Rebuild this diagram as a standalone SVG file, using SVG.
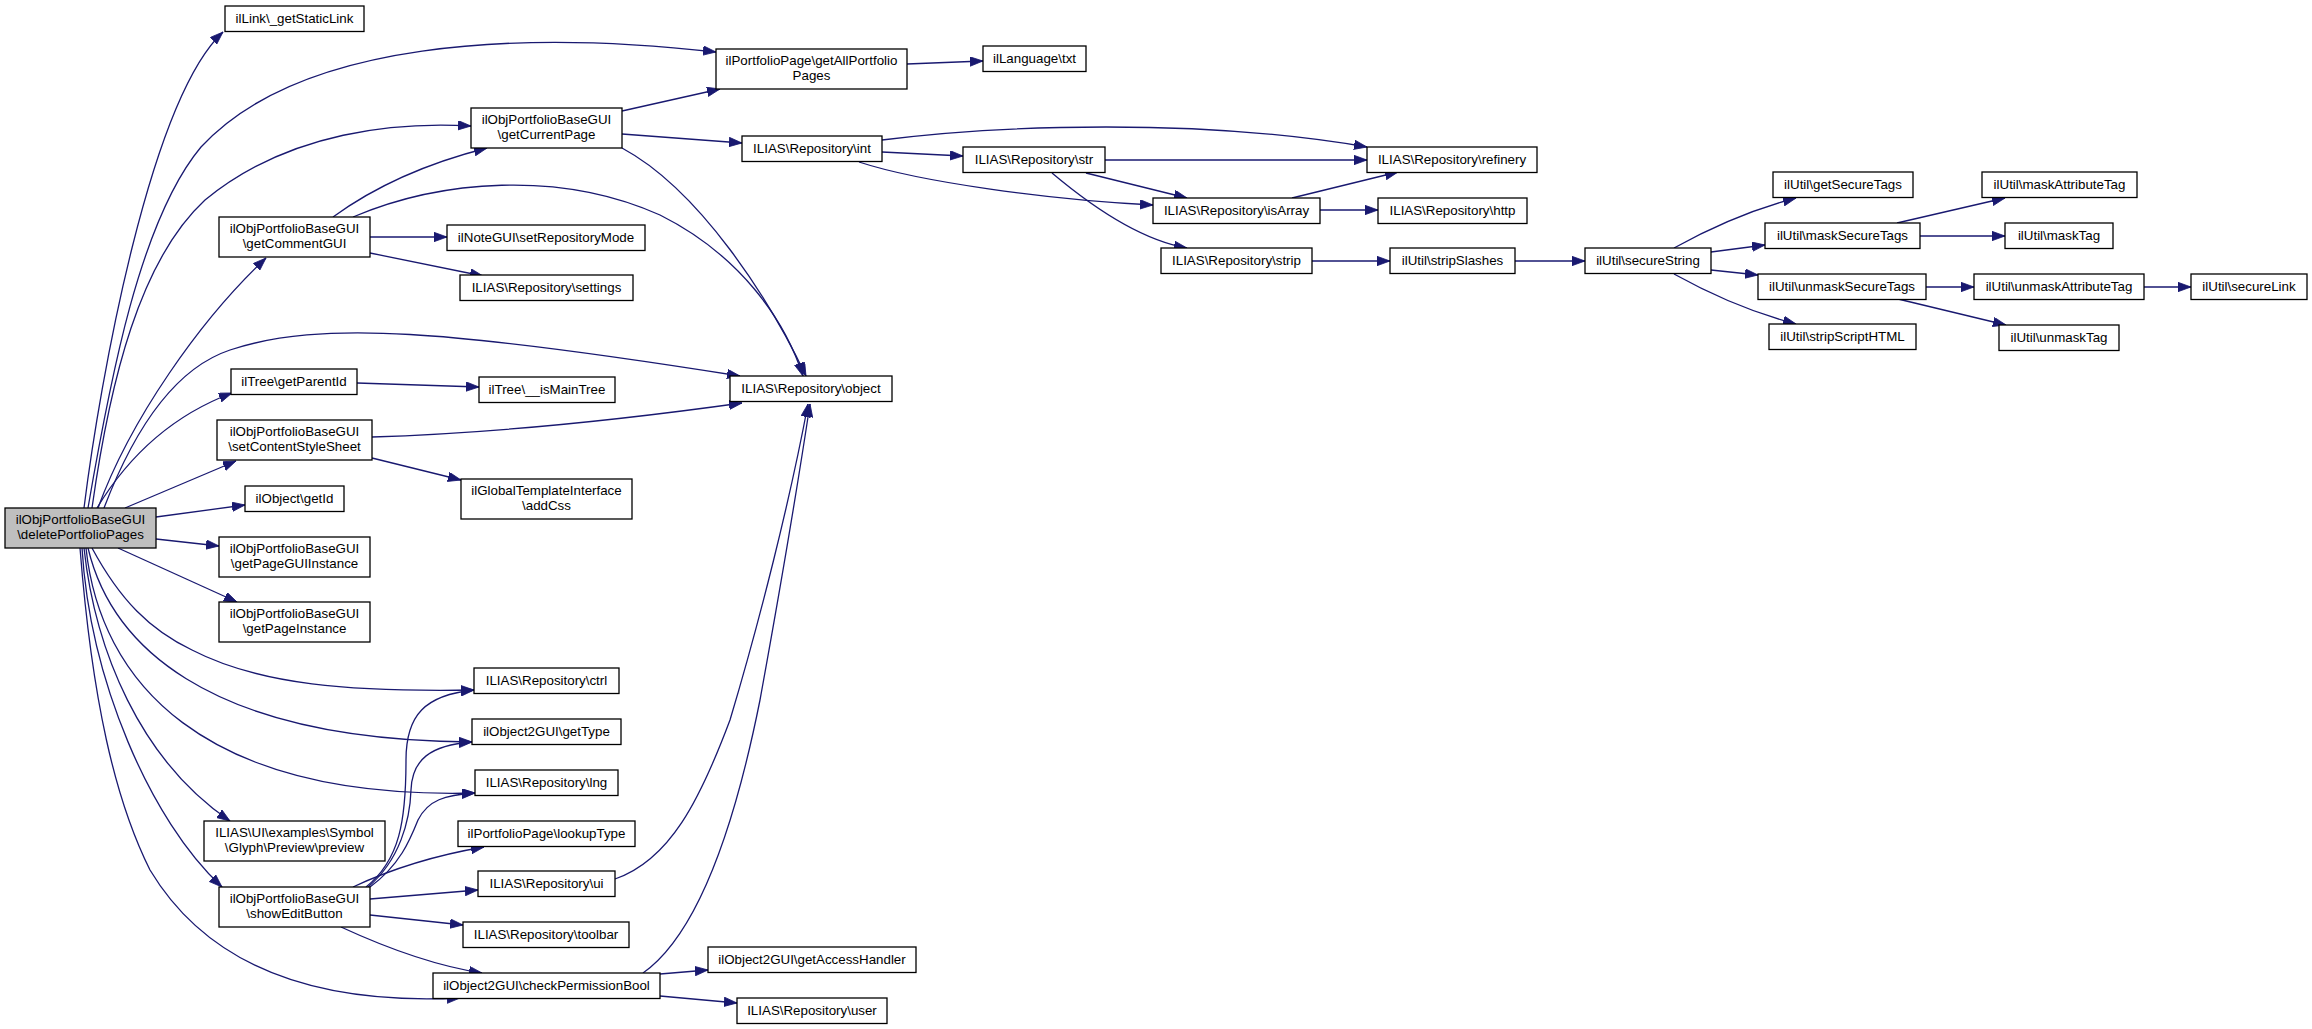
<svg xmlns="http://www.w3.org/2000/svg" width="2312" height="1029" viewBox="0 0 2312 1029">
<style>
.n rect{fill:#fff;stroke:#000;stroke-width:1.3}
.root rect{fill:#bfbfbf}
text{font-family:"Liberation Sans",Arial,Helvetica,sans-serif;font-size:13.33px;text-anchor:middle;fill:#000}
.e path{fill:none;stroke:#191970;stroke-width:1.3;marker-end:url(#a)}
</style>
<defs>
<marker id="a" markerUnits="userSpaceOnUse" markerWidth="14" markerHeight="10" refX="13" refY="4.7" orient="auto">
<path d="M0,0 L13,4.7 L0,9.4 z" fill="#191970" stroke="#191970" stroke-width="0.8"/>
</marker>
</defs>
<rect width="2312" height="1029" fill="#fff"/>
<g id="edges" class="e">
<path d="M84,508 C100,380 150,100 223,32"/>
<path d="M88,508 C110,380 140,220 201,147 C300,40 520,30 716,52"/>
<path d="M92,508 C110,380 140,260 205,200 C290,130 400,122 471,126"/>
<path d="M98,508 C130,420 200,320 266,258"/>
<path d="M104,508 C130,440 170,370 230,350 C320,320 450,330 740,376"/>
<path d="M97,508 C120,470 160,420 232,393"/>
<path d="M125,508 L236,461"/>
<path d="M156,517 L245,505"/>
<path d="M156,539 L219,546"/>
<path d="M118,548 L237,602"/>
<path d="M92,548 C120,600 150,630 192,650 C260,685 350,692 474,690"/>
<path d="M88,548 C110,640 200,740 472,742"/>
<path d="M86,548 C100,680 200,800 475,793"/>
<path d="M84,548 C95,650 140,760 230,821"/>
<path d="M82,548 C90,680 150,820 222,887"/>
<path d="M80,548 C92,700 115,800 150,870 C210,970 320,1005 460,998"/>
<path d="M333,217 C370,190 420,165 487,148"/>
<path d="M353,217 C440,180 560,170 660,215 C740,255 785,320 803,376"/>
<path d="M370,237 L447,237"/>
<path d="M370,253 L483,276"/>
<path d="M622,111 L720,89"/>
<path d="M622,134 L742,143"/>
<path d="M622,148 C700,190 770,300 806,376"/>
<path d="M907,64 L983,61"/>
<path d="M882,140 C1000,125 1200,118 1367,147"/>
<path d="M882,152 L963,156"/>
<path d="M859,162 C920,182 1050,200 1153,205"/>
<path d="M1105,160 L1367,160"/>
<path d="M1086,173 L1187,198"/>
<path d="M1052,173 C1090,205 1140,240 1187,248"/>
<path d="M1292,198 L1398,172"/>
<path d="M1320,210 L1378,210"/>
<path d="M1312,261 L1390,261"/>
<path d="M1515,261 L1585,261"/>
<path d="M1674,248 C1710,228 1750,210 1796,198"/>
<path d="M1711,252 L1765,245"/>
<path d="M1711,270 L1758,275"/>
<path d="M1674,274 C1710,294 1750,312 1796,324"/>
<path d="M1897,223 L2005,198"/>
<path d="M1920,236 L2005,236"/>
<path d="M1926,287 L1974,287"/>
<path d="M1898,299 L2006,325"/>
<path d="M2144,287 L2191,287"/>
<path d="M357,383 L479,387"/>
<path d="M372,437 C500,433 620,420 742,403"/>
<path d="M372,458 L461,480"/>
<path d="M366,887 C400,860 406,820 406,760 C406,715 425,695 474,690"/>
<path d="M368,887 C400,860 410,820 411,790 C412,760 430,745 472,742"/>
<path d="M370,887 C400,865 410,840 418,820 C428,800 445,795 475,793"/>
<path d="M353,887 C385,872 425,857 484,847"/>
<path d="M370,899 L478,890"/>
<path d="M370,915 L463,925"/>
<path d="M341,927 C380,945 430,965 482,973"/>
<path d="M615,879 C670,860 700,800 730,720 C760,620 790,500 808,404"/>
<path d="M643,973 C690,940 730,850 760,700 C780,590 800,470 810,404"/>
<path d="M660,974 L708,970"/>
<path d="M660,996 L737,1003"/>
</g>
<g id="n_deletePortfolioPages" class="n root"><rect x="5" y="508" width="151" height="40"/><text x="80.5" y="523.5">ilObjPortfolioBaseGUI</text><text x="80.5" y="538.5">\deletePortfolioPages</text></g>
<g id="n_getStaticLink" class="n"><rect x="225" y="6" width="139" height="25.5"/><text x="294.5" y="23">ilLink\_getStaticLink</text></g>
<g id="n_getCurrentPage" class="n"><rect x="471" y="108" width="151" height="40"/><text x="546.5" y="123.5">ilObjPortfolioBaseGUI</text><text x="546.5" y="138.5">\getCurrentPage</text></g>
<g id="n_getCommentGUI" class="n"><rect x="219" y="217" width="151" height="40"/><text x="294.5" y="232.5">ilObjPortfolioBaseGUI</text><text x="294.5" y="247.5">\getCommentGUI</text></g>
<g id="n_setRepositoryMode" class="n"><rect x="447" y="225" width="198" height="25.5"/><text x="546" y="242">ilNoteGUI\setRepositoryMode</text></g>
<g id="n_settings" class="n"><rect x="460" y="275" width="173" height="25.5"/><text x="546.5" y="292">ILIAS\Repository\settings</text></g>
<g id="n_getParentId" class="n"><rect x="231" y="369" width="126" height="25.5"/><text x="294" y="386">ilTree\getParentId</text></g>
<g id="n_isMainTree" class="n"><rect x="479" y="377" width="136" height="25.5"/><text x="547" y="394">ilTree\__isMainTree</text></g>
<g id="n_setContentStyleSheet" class="n"><rect x="217" y="420" width="155" height="40"/><text x="294.5" y="435.5">ilObjPortfolioBaseGUI</text><text x="294.5" y="450.5">\setContentStyleSheet</text></g>
<g id="n_addCss" class="n"><rect x="461" y="479" width="171" height="40"/><text x="546.5" y="494.5">ilGlobalTemplateInterface</text><text x="546.5" y="509.5">\addCss</text></g>
<g id="n_getId" class="n"><rect x="245" y="486" width="99" height="25.5"/><text x="294.5" y="503">ilObject\getId</text></g>
<g id="n_getPageGUIInstance" class="n"><rect x="219" y="537" width="151" height="40"/><text x="294.5" y="552.5">ilObjPortfolioBaseGUI</text><text x="294.5" y="567.5">\getPageGUIInstance</text></g>
<g id="n_getPageInstance" class="n"><rect x="219" y="602" width="151" height="40"/><text x="294.5" y="617.5">ilObjPortfolioBaseGUI</text><text x="294.5" y="632.5">\getPageInstance</text></g>
<g id="n_ctrl" class="n"><rect x="474" y="668" width="145" height="25.5"/><text x="546.5" y="685">ILIAS\Repository\ctrl</text></g>
<g id="n_getType" class="n"><rect x="472" y="719" width="149" height="25.5"/><text x="546.5" y="736">ilObject2GUI\getType</text></g>
<g id="n_lng" class="n"><rect x="475" y="770" width="143" height="25.5"/><text x="546.5" y="787">ILIAS\Repository\lng</text></g>
<g id="n_preview" class="n"><rect x="204" y="821" width="181" height="40"/><text x="294.5" y="836.5">ILIAS\UI\examples\Symbol</text><text x="294.5" y="851.5">\Glyph\Preview\preview</text></g>
<g id="n_lookupType" class="n"><rect x="458" y="821" width="177" height="25.5"/><text x="546.5" y="838">ilPortfolioPage\lookupType</text></g>
<g id="n_ui" class="n"><rect x="478" y="871" width="137" height="25.5"/><text x="546.5" y="888">ILIAS\Repository\ui</text></g>
<g id="n_showEditButton" class="n"><rect x="219" y="887" width="151" height="40"/><text x="294.5" y="902.5">ilObjPortfolioBaseGUI</text><text x="294.5" y="917.5">\showEditButton</text></g>
<g id="n_toolbar" class="n"><rect x="463" y="922" width="166" height="25.5"/><text x="546" y="939">ILIAS\Repository\toolbar</text></g>
<g id="n_checkPermissionBool" class="n"><rect x="433" y="973" width="227" height="25.5"/><text x="546.5" y="990">ilObject2GUI\checkPermissionBool</text></g>
<g id="n_getAccessHandler" class="n"><rect x="708" y="947" width="208" height="25.5"/><text x="812" y="964">ilObject2GUI\getAccessHandler</text></g>
<g id="n_user" class="n"><rect x="737" y="998" width="150" height="25.5"/><text x="812" y="1015">ILIAS\Repository\user</text></g>
<g id="n_object" class="n"><rect x="730" y="376" width="162" height="25.5"/><text x="811" y="393">ILIAS\Repository\object</text></g>
<g id="n_getAllPortfolioPages" class="n"><rect x="716" y="49" width="191" height="40"/><text x="811.5" y="64.5">ilPortfolioPage\getAllPortfolio</text><text x="811.5" y="79.5">Pages</text></g>
<g id="n_txt" class="n"><rect x="983" y="46" width="103" height="25.5"/><text x="1034.5" y="63">ilLanguage\txt</text></g>
<g id="n_int" class="n"><rect x="742" y="136" width="140" height="25.5"/><text x="812" y="153">ILIAS\Repository\int</text></g>
<g id="n_str" class="n"><rect x="963" y="147" width="142" height="25.5"/><text x="1034" y="164">ILIAS\Repository\str</text></g>
<g id="n_refinery" class="n"><rect x="1367" y="147" width="170" height="25.5"/><text x="1452" y="164">ILIAS\Repository\refinery</text></g>
<g id="n_isArray" class="n"><rect x="1153" y="198" width="167" height="25.5"/><text x="1236.5" y="215">ILIAS\Repository\isArray</text></g>
<g id="n_http" class="n"><rect x="1378" y="198" width="149" height="25.5"/><text x="1452.5" y="215">ILIAS\Repository\http</text></g>
<g id="n_strip" class="n"><rect x="1161" y="248" width="151" height="25.5"/><text x="1236.5" y="265">ILIAS\Repository\strip</text></g>
<g id="n_stripSlashes" class="n"><rect x="1390" y="248" width="125" height="25.5"/><text x="1452.5" y="265">ilUtil\stripSlashes</text></g>
<g id="n_secureString" class="n"><rect x="1585" y="248" width="126" height="25.5"/><text x="1648" y="265">ilUtil\secureString</text></g>
<g id="n_getSecureTags" class="n"><rect x="1773" y="172" width="140" height="25.5"/><text x="1843" y="189">ilUtil\getSecureTags</text></g>
<g id="n_maskSecureTags" class="n"><rect x="1765" y="223" width="155" height="25.5"/><text x="1842.5" y="240">ilUtil\maskSecureTags</text></g>
<g id="n_unmaskSecureTags" class="n"><rect x="1758" y="274" width="168" height="25.5"/><text x="1842" y="291">ilUtil\unmaskSecureTags</text></g>
<g id="n_stripScriptHTML" class="n"><rect x="1769" y="324" width="147" height="25.5"/><text x="1842.5" y="341">ilUtil\stripScriptHTML</text></g>
<g id="n_maskAttributeTag" class="n"><rect x="1982" y="172" width="155" height="25.5"/><text x="2059.5" y="189">ilUtil\maskAttributeTag</text></g>
<g id="n_maskTag" class="n"><rect x="2005" y="223" width="108" height="25.5"/><text x="2059" y="240">ilUtil\maskTag</text></g>
<g id="n_unmaskAttributeTag" class="n"><rect x="1974" y="274" width="170" height="25.5"/><text x="2059" y="291">ilUtil\unmaskAttributeTag</text></g>
<g id="n_secureLink" class="n"><rect x="2191" y="274" width="116" height="25.5"/><text x="2249" y="291">ilUtil\secureLink</text></g>
<g id="n_unmaskTag" class="n"><rect x="1999" y="325" width="120" height="25.5"/><text x="2059" y="342">ilUtil\unmaskTag</text></g>
</svg>
